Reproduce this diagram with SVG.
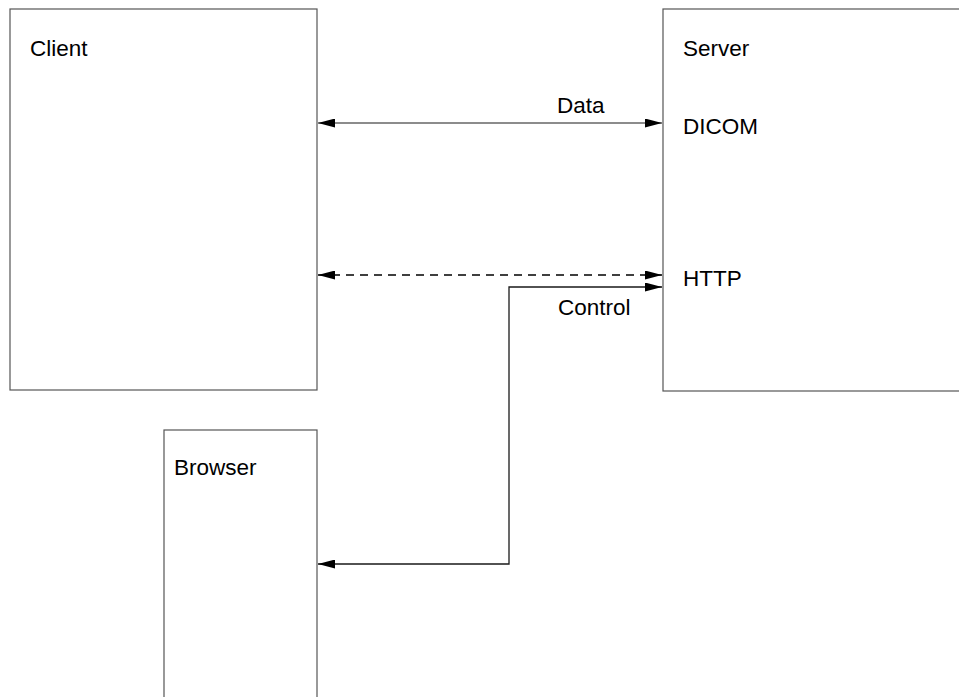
<svg xmlns="http://www.w3.org/2000/svg" width="959" height="697" viewBox="0 0 959 697">
  <style>
    .box { fill: #ffffff; stroke: #555555; stroke-width: 1.2; }
    .label { font-family: "Liberation Sans", Arial, sans-serif; font-size: 22.5px; fill: #000000; }
    .link { fill: none; stroke: #1a1a1a; stroke-width: 1.3; }
    .soft { stroke: #666666; }
    .dash { stroke: #000000; stroke-dasharray: 8 6; }
  </style>
  <defs>
    <marker id="head" viewBox="0 0 17 9" refX="17" refY="4.5" markerWidth="17" markerHeight="9" markerUnits="userSpaceOnUse" orient="auto-start-reverse">
      <path d="M0,0 L17,4.5 L0,9 Z" fill="#000000"/>
    </marker>
  </defs>
  <rect width="959" height="697" fill="#ffffff"/>

  <g id="client">
    <rect class="box" x="10" y="9" width="307" height="381"/>
    <text class="label" x="30" y="56">Client</text>
  </g>

  <g id="server">
    <rect class="box" x="663" y="9" width="300" height="382"/>
    <text class="label" x="683" y="56">Server</text>
    <text class="label" x="683" y="134">DICOM</text>
    <text class="label" x="683" y="286">HTTP</text>
  </g>

  <g id="browser">
    <rect class="box" x="164" y="430" width="153" height="280"/>
    <text class="label" x="174" y="475">Browser</text>
  </g>

  <g id="connectors">
    <line class="link soft" x1="318" y1="123" x2="662" y2="123" marker-start="url(#head)" marker-end="url(#head)"/>
    <text class="label" x="557" y="113">Data</text>
    <line class="link dash" x1="318" y1="275" x2="662" y2="275" marker-start="url(#head)" marker-end="url(#head)"/>
    <polyline class="link" points="662,287 509,287 509,564 318,564" marker-start="url(#head)" marker-end="url(#head)"/>
    <text class="label" x="558" y="315">Control</text>
  </g>
</svg>
